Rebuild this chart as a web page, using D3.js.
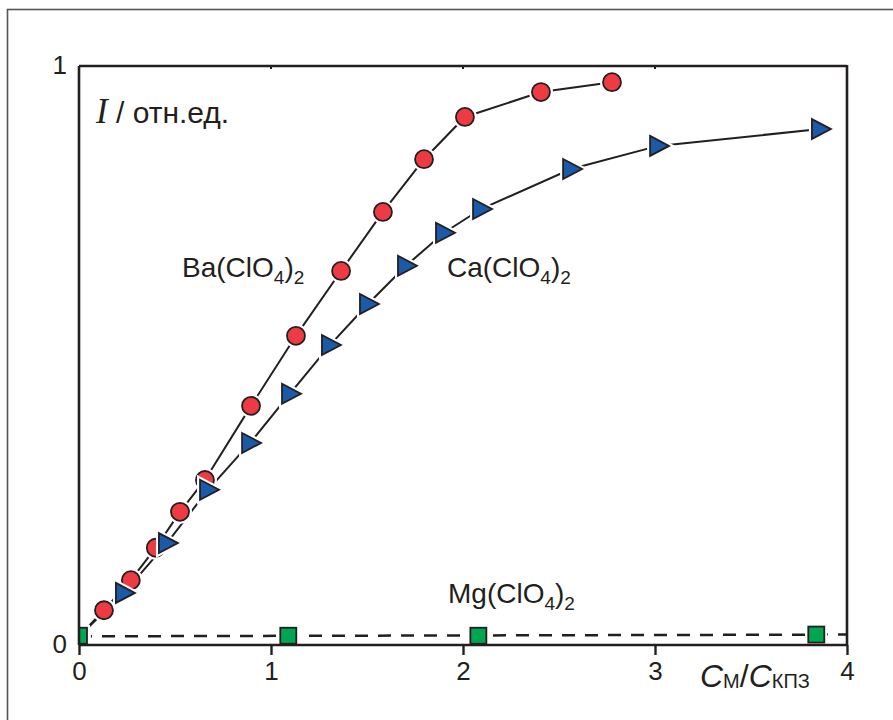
<!DOCTYPE html>
<html>
<head>
<meta charset="utf-8">
<script src="https://cdn.jsdelivr.net/npm/d3@7"></script>
<style>
  body { margin: 0; background: #fff; }
  text { font-family: "Liberation Sans", Arial, sans-serif; fill: #231f20; }
</style>
</head>
<body>
<svg></svg>
<script>
// data
let baX = [0, 0.13, 0.27, 0.40, 0.526, 0.656, 0.896, 1.13, 1.365, 1.583, 1.797, 2.01, 2.406, 2.776];
let baY = [0.015, 0.060, 0.112, 0.168, 0.230, 0.285, 0.413, 0.534, 0.646, 0.748, 0.839, 0.912, 0.955, 0.972];
let caX = [0, 0.234, 0.458, 0.672, 0.891, 1.099, 1.307, 1.505, 1.703, 1.901, 2.094, 2.563, 3.016, 3.859];
let caY = [0.015, 0.090, 0.176, 0.268, 0.349, 0.434, 0.518, 0.589, 0.655, 0.712, 0.753, 0.822, 0.862, 0.891];
let mgX = [0, 1.09, 2.08, 3.84];
let mgY = [0.016, 0.016, 0.016, 0.018];
let mgLineX = [0, 4];
let mgLineY = [0.015, 0.018];
let xTicks = [0, 1, 2, 3, 4];
let yTicks = [0, 1];

let width = 893;
let height = 720;
let pLeft = 79, pRight = 847, pTop = 66, pBottom = 645;
let ink = '#231f20';

let svg = d3.select('svg').attr('width', width).attr('height', height);

// outer frame (runs off the picture on the right and bottom)
svg.append('rect')
   .attr('x', 7.5).attr('y', 9.5)
   .attr('width', 900).attr('height', 720)
   .attr('fill', 'none').attr('stroke', '#555').attr('stroke-width', 1.6);

let xScale = d3.scaleLinear().domain([0, 4]).range([pLeft, pRight]);
let yScale = d3.scaleLinear().domain([0, 1]).range([pBottom, pTop]);

svg.append('clipPath').attr('id', 'plot')
   .append('rect').attr('x', pLeft + 1).attr('y', pTop).attr('width', pRight - pLeft - 1).attr('height', pBottom - pTop);

let toPts = (xs, ys) => xs.map((x, i) => [x, ys[i]]);
let line = d3.line().x(d => xScale(d[0])).y(d => yScale(d[1]));

let g = svg.append('g').attr('clip-path', 'url(#plot)');

// Mg dashed line
g.append('path')
 .attr('d', line(toPts(mgLineX, mgLineY)))
 .attr('fill', 'none').attr('stroke', ink).attr('stroke-width', 2.5)
 .attr('stroke-dasharray', '13,10');

g.append('path')
 .attr('d', line(toPts(baX, baY)))
 .attr('fill', 'none').attr('stroke', ink).attr('stroke-width', 2);
g.append('path')
 .attr('d', line(toPts(caX, caY)))
 .attr('fill', 'none').attr('stroke', ink).attr('stroke-width', 2);

let drawMarkers = (pts, shape, fill) => {
  // white halo gives the small gap between line and marker
  ['halo', 'mark'].forEach(layer => {
    let sel = g.selectAll('.m-' + layer + '-' + fill.slice(1))
      .data(pts).enter();
    let node;
    if (shape === 'circle') {
      node = sel.append('circle')
        .attr('cx', d => xScale(d[0])).attr('cy', d => yScale(d[1])).attr('r', 9);
    } else if (shape === 'tri') {
      node = sel.append('path')
        .attr('d', 'M-8,-10L11,0L-8,10Z')
        .attr('transform', d => 'translate(' + xScale(d[0]) + ',' + yScale(d[1]) + ')');
    } else {
      node = sel.append('rect')
        .attr('x', d => xScale(d[0]) - 8).attr('y', d => yScale(d[1]) - 8)
        .attr('width', 16).attr('height', 16);
    }
    if (layer === 'halo') {
      node.attr('fill', '#fff').attr('stroke', '#fff').attr('stroke-width', 6);
    } else {
      node.attr('fill', fill).attr('stroke', ink).attr('stroke-width', 1.8);
    }
  });
};

drawMarkers(toPts(baX, baY), 'circle', '#ee3a43');
drawMarkers(toPts(caX, caY).slice(1), 'tri', '#1b5aa8');
drawMarkers(toPts(mgX, mgY), 'square', '#00a651');

// axes frame
let ax = svg.append('g').attr('stroke', ink).attr('stroke-width', 2.6).attr('fill', 'none');
ax.append('line').attr('x1', pLeft).attr('x2', pRight).attr('y1', pBottom).attr('y2', pBottom);
ax.append('line').attr('x1', pLeft).attr('x2', pRight).attr('y1', pTop).attr('y2', pTop);
ax.append('line').attr('x1', pLeft).attr('x2', pLeft).attr('y1', pTop).attr('y2', pBottom);
ax.append('line').attr('x1', pRight).attr('x2', pRight).attr('y1', pTop - 1).attr('y2', pBottom);

let xAxis = d3.axisBottom(xScale).tickValues(xTicks).tickFormat(d3.format('d'))
  .tickSize(10).tickPadding(7);
let xg = svg.append('g').attr('transform', 'translate(0,' + pBottom + ')').call(xAxis);
xg.select('.domain').remove();
xg.selectAll('.tick line').attr('stroke', ink).attr('stroke-width', 2.4);
xg.selectAll('.tick text').attr('font-size', 26).attr('fill', ink)
  .attr('font-family', '"Liberation Sans", Arial, sans-serif');

// tiny marks on the top edge
svg.selectAll('.top-tick').data(xTicks.slice(1, 4)).enter().append('line')
  .attr('x1', d => xScale(d)).attr('x2', d => xScale(d))
  .attr('y1', pTop).attr('y2', pTop + 3)
  .attr('stroke', ink).attr('stroke-width', 2);

let yAxis = d3.axisLeft(yScale).tickValues(yTicks).tickFormat(d3.format('d'))
  .tickSize(0).tickPadding(12);
let yg = svg.append('g').attr('transform', 'translate(' + pLeft + ',0)').call(yAxis);
yg.select('.domain').remove();
yg.selectAll('.tick text').attr('font-size', 26).attr('fill', ink)
  .attr('font-family', '"Liberation Sans", Arial, sans-serif')
  .attr('dy', '0.3em');

// y label
let yl = svg.append('text').attr('x', 96).attr('y', 123).attr('font-size', 30);
yl.append('tspan').text('I').attr('font-family', '"Liberation Serif", "Times New Roman", serif')
  .attr('font-style', 'italic').attr('font-size', 35);
yl.append('tspan').text(' / отн.ед.');

// x label
let xl = svg.append('text').attr('x', 700).attr('y', 687).attr('font-size', 32);
xl.append('tspan').text('C').attr('font-style', 'italic');
xl.append('tspan').text('М').attr('font-size', 20).attr('dy', 1);
xl.append('tspan').text('/').attr('font-size', 32).attr('dy', -1);
xl.append('tspan').text('C').attr('font-style', 'italic');
xl.append('tspan').text('КПЗ').attr('font-size', 20).attr('dy', 1);

// series labels
let salt = (x, y, metal) => {
  let t = svg.append('text').attr('x', x).attr('y', y).attr('font-size', 28);
  t.append('tspan').text(metal + '(ClO');
  t.append('tspan').text('4').attr('font-size', 19).attr('dy', 7);
  t.append('tspan').text(')').attr('dy', -7);
  t.append('tspan').text('2').attr('font-size', 19).attr('dy', 7);
};
salt(182, 277, 'Ba');
salt(447, 277, 'Ca');
salt(448, 603, 'Mg');
</script>
</body>
</html>
